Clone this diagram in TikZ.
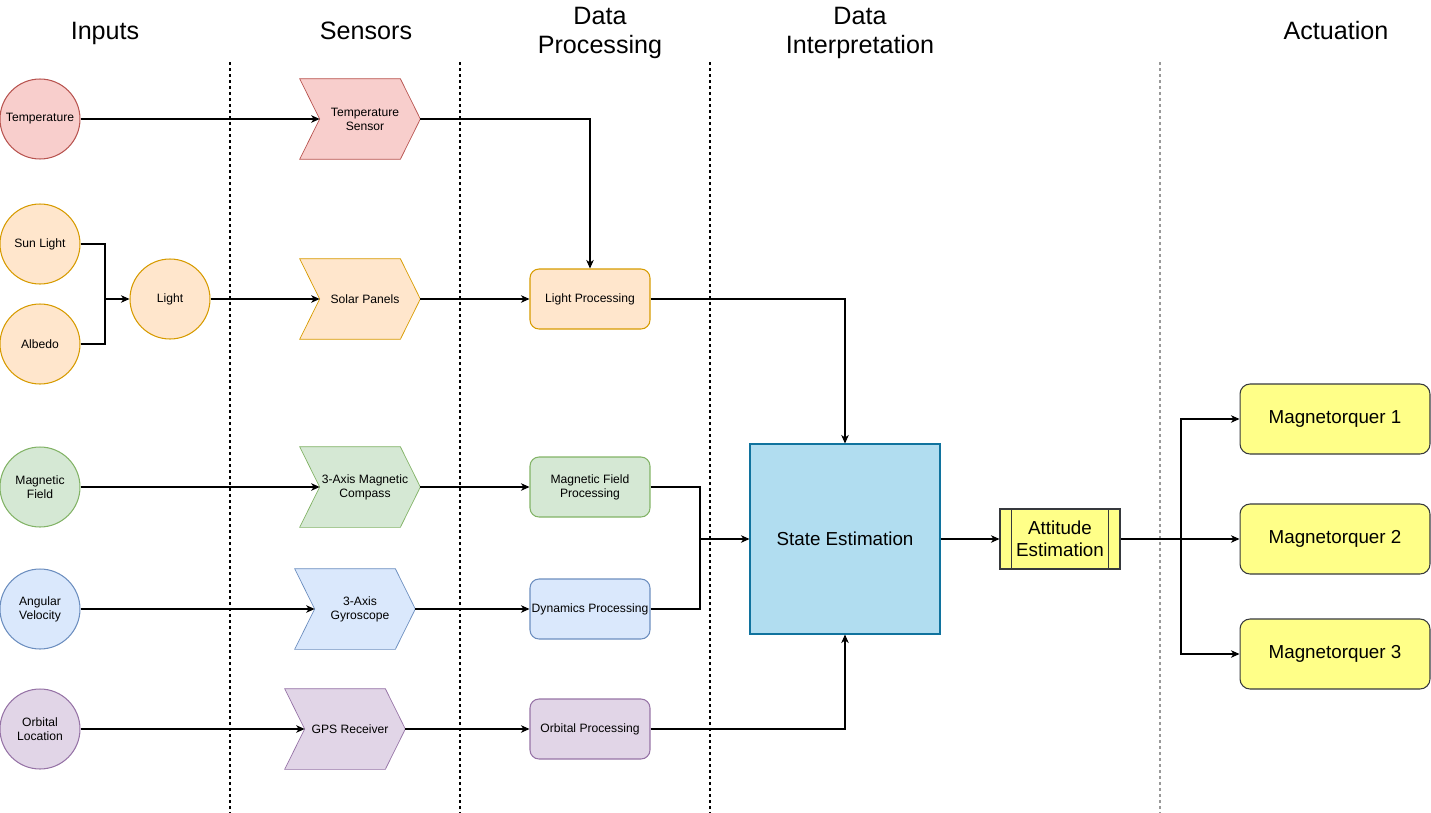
\documentclass[tikz,border=0pt]{standalone}
\usepackage{fontspec}
\setmainfont{Liberation Sans}
\usetikzlibrary{arrows.meta,backgrounds}

\definecolor{redF}{HTML}{F8CECC}\definecolor{redD}{HTML}{B85450}
\definecolor{orgF}{HTML}{FFE6CC}\definecolor{orgD}{HTML}{D79B00}
\definecolor{grnF}{HTML}{D5E8D4}\definecolor{grnD}{HTML}{82B366}
\definecolor{bluF}{HTML}{DAE8FC}\definecolor{bluD}{HTML}{6C8EBF}
\definecolor{purF}{HTML}{E1D5E7}\definecolor{purD}{HTML}{9673A6}
\definecolor{staF}{HTML}{B1DDF0}\definecolor{staD}{HTML}{10739E}
\definecolor{yelF}{HTML}{FFFF88}\definecolor{yelD}{HTML}{36393D}

% chevron outline around a rectangular node, notch depth 20 units
\newcommand\chevpath[1]{(#1.north west) -- ([xshift=-0.4cm]#1.north east) -- (#1.east)
  -- ([xshift=-0.4cm]#1.south east) -- (#1.south west) -- ([xshift=0.4cm]#1.west) -- cycle}

\tikzset{
  smallfont/.style={font=\fontsize{6.9}{7.9}\selectfont},
  midfont/.style={font=\fontsize{10.7}{12.6}\selectfont},
  headfont/.style={font=\fontsize{14.3}{16.6}\selectfont},
  inputc/.style={circle, draw, line width=0.6pt, minimum size=1.6cm, inner sep=0pt, align=center, smallfont},
  chevnode/.style={rectangle, minimum width=2.4cm, minimum height=1.6cm, inner sep=0pt, align=center, smallfont},
  procbox/.style={rectangle, rounded corners=0.18cm, draw, line width=0.6pt, minimum width=2.4cm, minimum height=1.2cm, inner sep=0pt, align=center, smallfont},
  mtbox/.style={rectangle, rounded corners=0.2cm, draw=yelD, fill=yelF, line width=0.6pt, minimum width=3.8cm, minimum height=1.4cm, inner sep=0pt, midfont},
  header/.style={align=center, headfont},
  conn/.style={line width=0.6pt, draw=black},
  arr/.style={conn, -{Stealth[length=0.17cm, width=0.15cm, inset=0.05cm]}},
  divider/.style={line width=0.6pt, dash pattern=on 0.06cm off 0.06cm},
}

\begin{document}
\begin{tikzpicture}[x=0.02cm, y=-0.02cm]
\useasboundingbox (0,0) rectangle (1431,812);

% column headers
\node[header, anchor=base] (hin) at (105,39) {Inputs};
\node[header, anchor=base] (hse) at (366,39) {Sensors};
\node[header] (hdp) at (600,33) {Data\\Processing};
\node[header] (hdi) at (860,33) {Data\\Interpretation};
\node[header, anchor=base] (hac) at (1336,39) {Actuation};

% column dividers
\draw[divider] (230,62) -- (230,812);
\draw[divider] (460,62) -- (460,812);
\draw[divider] (710,62) -- (710,812);
\draw[divider, draw=gray!80] (1160,62) -- (1160,812);

% inputs
\node[inputc, fill=redF, draw=redD] (temp) at (40,119) {Temperature};
\node[inputc, fill=orgF, draw=orgD] (sun) at (40,244) {Sun Light};
\node[inputc, fill=orgF, draw=orgD] (alb) at (40,344) {Albedo};
\node[inputc, fill=orgF, draw=orgD] (light) at (170,299) {Light};
\node[inputc, fill=grnF, draw=grnD] (mag) at (40,487) {Magnetic\\Field};
\node[inputc, fill=bluF, draw=bluD] (ang) at (40,609) {Angular\\Velocity};
\node[inputc, fill=purF, draw=purD] (orb) at (40,729) {Orbital\\Location};

% sensors
\node[chevnode] (ts) at (360,119) {\hspace*{0.2cm}Temperature\\\hspace*{0.2cm}Sensor};
\node[chevnode] (sp) at (360,299) {\hspace*{0.2cm}Solar Panels};
\node[chevnode] (mc) at (360,487) {\hspace*{0.2cm}3-Axis Magnetic\\\hspace*{0.2cm}Compass};
\node[chevnode] (gy) at (355,609) {\hspace*{0.2cm}3-Axis\\\hspace*{0.2cm}Gyroscope};
\node[chevnode] (gps) at (345,729) {\hspace*{0.2cm}GPS Receiver};
\begin{scope}[on background layer, line width=0.6pt]
  \filldraw[fill=redF, draw=redD] \chevpath{ts};
  \filldraw[fill=orgF, draw=orgD] \chevpath{sp};
  \filldraw[fill=grnF, draw=grnD] \chevpath{mc};
  \filldraw[fill=bluF, draw=bluD] \chevpath{gy};
  \filldraw[fill=purF, draw=purD] \chevpath{gps};
\end{scope}

% data processing
\node[procbox, fill=orgF, draw=orgD] (lp) at (590,299) {Light Processing};
\node[procbox, fill=grnF, draw=grnD] (mfp) at (590,487) {Magnetic Field\\Processing};
\node[procbox, fill=bluF, draw=bluD] (dp) at (590,609) {Dynamics Processing};
\node[procbox, fill=purF, draw=purD] (op) at (590,729) {Orbital Processing};

% interpretation
\node[rectangle, draw=staD, fill=staF, line width=0.6pt, minimum size=3.8cm, inner sep=0pt, midfont] (se) at (845,539) {State Estimation};
\node[rectangle, draw=yelD, fill=yelF, line width=0.6pt, minimum width=2.4cm, minimum height=1.2cm, inner sep=0pt, align=center, midfont] (ae) at (1060,539) {Attitude\\Estimation};
\draw[line width=0.6pt, draw=yelD] ([xshift=0.24cm]ae.north west) -- ([xshift=0.24cm]ae.south west);
\draw[line width=0.6pt, draw=yelD] ([xshift=-0.24cm]ae.north east) -- ([xshift=-0.24cm]ae.south east);

% actuation
\node[mtbox] (mt1) at (1335,419) {Magnetorquer 1};
\node[mtbox] (mt2) at (1335,539) {Magnetorquer 2};
\node[mtbox] (mt3) at (1335,654) {Magnetorquer 3};

% junction points
\coordinate (jl) at (105,299);
\coordinate (jm) at (700,539);
\coordinate (ja) at (1181,539);

% connectors
\draw[arr] (temp.east) -- ([xshift=0.4cm]ts.west);
\draw[arr] (ts.east) -| (lp.north);
\draw[conn] (sun.east) -| (jl);
\draw[conn] (alb.east) -| (jl);
\draw[arr] (jl) -- (light.west);
\draw[arr] (light.east) -- ([xshift=0.4cm]sp.west);
\draw[arr] (sp.east) -- (lp.west);
\draw[arr] (lp.east) -| (se.north);

\draw[arr] (mag.east) -- ([xshift=0.4cm]mc.west);
\draw[arr] (mc.east) -- (mfp.west);
\draw[conn] (mfp.east) -| (jm);
\draw[arr] (ang.east) -- ([xshift=0.4cm]gy.west);
\draw[arr] (gy.east) -- (dp.west);
\draw[conn] (dp.east) -| (jm);
\draw[arr] (jm) -- (se.west);

\draw[arr] (orb.east) -- ([xshift=0.4cm]gps.west);
\draw[arr] (gps.east) -- (op.west);
\draw[arr] (op.east) -| (se.south);

\draw[arr] (se.east) -- (ae.west);
\draw[conn] (ae.east) -- (ja);
\draw[arr] (ja) |- (mt1.west);
\draw[arr] (ja) -- (mt2.west);
\draw[arr] (ja) |- (mt3.west);
\end{tikzpicture}
\end{document}
